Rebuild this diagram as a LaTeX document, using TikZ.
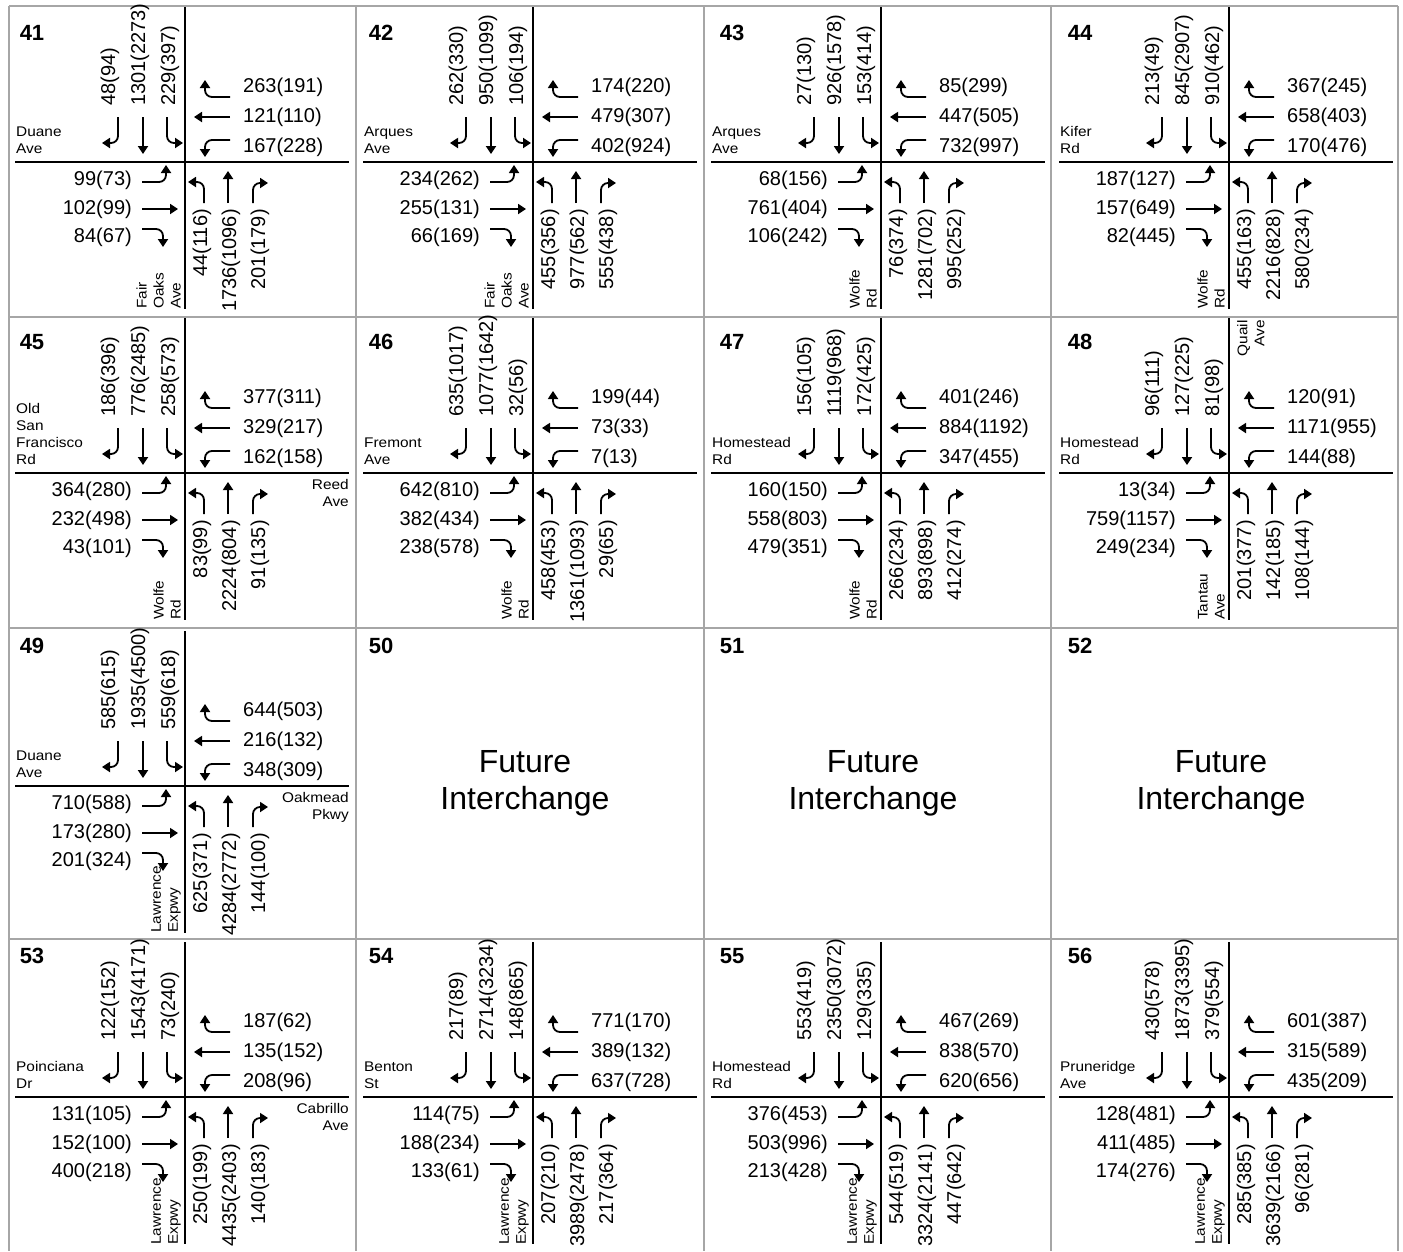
\documentclass[tikz,border=0pt]{standalone}
\usepackage{fontspec}
\setmainfont{Liberation Sans}
\newfontfamily\roadfont[FakeStretch=1.1]{Liberation Sans}
\usetikzlibrary{arrows.meta}

% one intersection: tag, centre x, centre y, SB, WB, EB, NB volumes
\newcommand{\junction}[7]{%
\begin{scope}[shift={(#2,#3)}]
\draw[road] (-170,0) -- (164,0);
\draw[road] (0,-155) -- (0,147);
\foreach \v [count=\k] in {#4} \node[vol, rotate=90, anchor=west] (sb#1-\k) at ({-105+30*\k},-56) {\v};
\foreach \v [count=\k] in {#5} \node[vol, anchor=west] (wb#1-\k) at (58,{-105+30*\k}) {\v};
\foreach \v [count=\k] in {#6} \node[vol, anchor=east] (eb#1-\k) at (-53,{-10+28.5*\k}) {\v};
\foreach \v [count=\k] in {#7} \node[vol, rotate=90, anchor=east] (nb#1-\k) at ({-12+29*\k},47) {\v};
% southbound
\draw[mvarrow] (-67,-45) -- (-67,-19) -- (-83,-19);
\draw[mvarrow] (-42,-45) -- (-42,-8);
\draw[mvarrow] (-18,-45) -- (-18,-19) -- (-2,-19);
% westbound
\draw[mvarrow] (45,-65) -- (20,-65) -- (20,-82);
\draw[mvarrow] (45,-45) -- (9,-45);
\draw[mvarrow] (45,-22) -- (20,-22) -- (20,-5);
% eastbound
\draw[mvarrow] (-43,20) -- (-19,20) -- (-19,3);
\draw[mvarrow] (-43,47) -- (-7,47);
\draw[mvarrow] (-43,67) -- (-22,67) -- (-22,85);
% northbound
\draw[mvarrow] (19,41) -- (19,20) -- (3,20);
\draw[mvarrow] (43,41) -- (43,9);
\draw[mvarrow] (68,41) -- (68,21) -- (83,21);
\end{scope}}

\begin{document}
\begin{tikzpicture}[x=1pt, y=-1pt,
  panelline/.style={draw=gray!70, line width=2pt},
  road/.style={line width=2.2pt},
  mvarrow/.style={line width=1.8pt, rounded corners=7pt, ->},
  >={Triangle[length=8pt,width=10pt]},
  vol/.style={inner sep=0pt, font=\fontsize{20}{20}\selectfont},
  street/.style={inner sep=0pt, align=left, font=\roadfont\fontsize{14}{17}\selectfont},
  tag/.style={inner sep=0pt, font=\bfseries\fontsize{22}{22}\selectfont},
  future/.style={align=center, font=\fontsize{32}{37}\selectfont}]
\useasboundingbox (0,0) rectangle (1403,1251);

% panel frame
\foreach \y in {6,317,628,939} \draw[panelline] (9,\y) -- (1398,\y);
\foreach \x in {9,356,704,1051,1398} \draw[panelline] (\x,6) -- (\x,1251);

% panel numbers
\foreach \t/\x/\y in {41/32/33, 42/381/33, 43/732/33, 44/1080/33,
  45/32/342, 46/381/342, 47/732/342, 48/1080/342,
  49/32/646, 50/381/646, 51/732/646, 52/1080/646,
  53/32/956, 54/381/956, 55/732/956, 56/1080/956}
  \node[tag] (tag\t) at (\x,\y) {\t};

% row 1
\junction{41}{185}{162}{48(94),1301(2273),229(397)}{263(191),121(110),167(228)}{99(73),102(99),84(67)}{44(116),1736(1096),201(179)}
\node[street, anchor=south west] (w41) at (16,154) {Duane\\Ave};
\node[street, rotate=90, anchor=south west] (s41) at (181,309) {Fair\\Oaks\\Ave};

\junction{42}{533}{162}{262(330),950(1099),106(194)}{174(220),479(307),402(924)}{234(262),255(131),66(169)}{455(356),977(562),555(438)}
\node[street, anchor=south west] (w42) at (364,154) {Arques\\Ave};
\node[street, rotate=90, anchor=south west] (s42) at (529,309) {Fair\\Oaks\\Ave};

\junction{43}{881}{162}{27(130),926(1578),153(414)}{85(299),447(505),732(997)}{68(156),761(404),106(242)}{76(374),1281(702),995(252)}
\node[street, anchor=south west] (w43) at (712,154) {Arques\\Ave};
\node[street, rotate=90, anchor=south west] (s43) at (877,309) {Wolfe\\Rd};

\junction{44}{1229}{162}{213(49),845(2907),910(462)}{367(245),658(403),170(476)}{187(127),157(649),82(445)}{455(163),2216(828),580(234)}
\node[street, anchor=south west] (w44) at (1060,154) {Kifer\\Rd};
\node[street, rotate=90, anchor=south west] (s44) at (1225,309) {Wolfe\\Rd};

% row 2
\junction{45}{185}{473}{186(396),776(2485),258(573)}{377(311),329(217),162(158)}{364(280),232(498),43(101)}{83(99),2224(804),91(135)}
\node[street, anchor=south west] (w45) at (16,465) {Old\\San\\Francisco\\Rd};
\node[street, rotate=90, anchor=south west] (s45) at (181,620) {Wolfe\\Rd};
\node[street, anchor=north east, align=right] (e45) at (349,479) {Reed\\Ave};

\junction{46}{533}{473}{635(1017),1077(1642),32(56)}{199(44),73(33),7(13)}{642(810),382(434),238(578)}{458(453),1361(1093),29(65)}
\node[street, anchor=south west] (w46) at (364,465) {Fremont\\Ave};
\node[street, rotate=90, anchor=south west] (s46) at (529,620) {Wolfe\\Rd};

\junction{47}{881}{473}{156(105),1119(968),172(425)}{401(246),884(1192),347(455)}{160(150),558(803),479(351)}{266(234),893(898),412(274)}
\node[street, anchor=south west] (w47) at (712,465) {Homestead\\Rd};
\node[street, rotate=90, anchor=south west] (s47) at (877,620) {Wolfe\\Rd};

\junction{48}{1229}{473}{96(111),127(225),81(98)}{120(91),1171(955),144(88)}{13(34),759(1157),249(234)}{201(377),142(185),108(144)}
\node[street, anchor=south west] (w48) at (1060,465) {Homestead\\Rd};
\node[street, rotate=90, anchor=south west] (s48) at (1225,620) {Tantau\\Ave};
\node[street, rotate=90, anchor=north east, align=right] (n48) at (1237,320) {Quail\\Ave};

% row 3
\junction{49}{185}{786}{585(615),1935(4500),559(618)}{644(503),216(132),348(309)}{710(588),173(280),201(324)}{625(371),4284(2772),144(100)}
\node[street, anchor=south west] (w49) at (16,778) {Duane\\Ave};
\node[street, rotate=90, anchor=south west] (s49) at (181,933) {Lawrence\\Expwy};
\node[street, anchor=north east, align=right] (e49) at (349,792) {Oakmead\\Pkwy};

\node[future] (f50) at (525,783) {Future\\Interchange};
\node[future] (f51) at (873,783) {Future\\Interchange};
\node[future] (f52) at (1221,783) {Future\\Interchange};

% row 4
\junction{53}{185}{1097}{122(152),1543(4171),73(240)}{187(62),135(152),208(96)}{131(105),152(100),400(218)}{250(199),4435(2403),140(183)}
\node[street, anchor=south west] (w53) at (16,1089) {Poinciana\\Dr};
\node[street, rotate=90, anchor=south west] (s53) at (181,1245) {Lawrence\\Expwy};
\node[street, anchor=north east, align=right] (e53) at (349,1103) {Cabrillo\\Ave};

\junction{54}{533}{1097}{217(89),2714(3234),148(865)}{771(170),389(132),637(728)}{114(75),188(234),133(61)}{207(210),3989(2478),217(364)}
\node[street, anchor=south west] (w54) at (364,1089) {Benton\\St};
\node[street, rotate=90, anchor=south west] (s54) at (529,1245) {Lawrence\\Expwy};

\junction{55}{881}{1097}{553(419),2350(3072),129(335)}{467(269),838(570),620(656)}{376(453),503(996),213(428)}{544(519),3324(2141),447(642)}
\node[street, anchor=south west] (w55) at (712,1089) {Homestead\\Rd};
\node[street, rotate=90, anchor=south west] (s55) at (877,1245) {Lawrence\\Expwy};

\junction{56}{1229}{1097}{430(578),1873(3395),379(554)}{601(387),315(589),435(209)}{128(481),411(485),174(276)}{285(385),3639(2166),96(281)}
\node[street, anchor=south west] (w56) at (1060,1089) {Pruneridge\\Ave};
\node[street, rotate=90, anchor=south west] (s56) at (1225,1245) {Lawrence\\Expwy};
\end{tikzpicture}
\end{document}
